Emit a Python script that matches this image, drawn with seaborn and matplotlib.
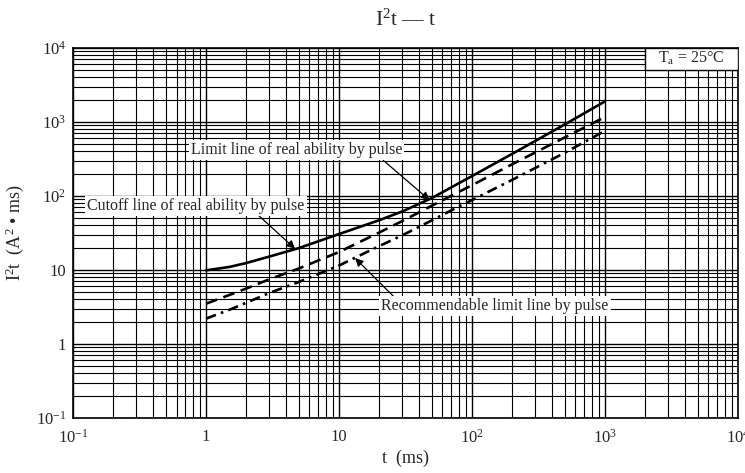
import pandas as pd
import matplotlib.pyplot as plt
import seaborn as sns
from matplotlib.patches import Rectangle
from matplotlib.ticker import LogLocator, NullFormatter, FixedLocator, FixedFormatter

# data (t in ms, I2t in A^2*ms)
t_ms = [1, 1.5, 2, 3, 5, 10, 20, 30, 50, 70, 100, 200, 500, 1000]
limit_line = [9.9, 11.0, 12.4, 15.2, 19.8, 30.6, 47, 62, 94, 131, 186, 370, 930, 1900]
cutoff_line = [3.5, 4.6, 5.6, 7.5, 10.5, 17.5, 32, 46, 74, 101, 140, 268, 620, 1170]
recommend_line = [2.2, 2.9, 3.6, 4.9, 6.9, 11.5, 21, 29.5, 47, 64, 88, 165, 385, 760]

decades = [0.1, 1, 10, 100, 1000, 10000]
x_labels = ["10$^{-1}$", "1", "10", "10$^{2}$", "10$^{3}$", "10$^{4}$"]
y_labels = ["10$^{-1}$", "1", "10", "10$^{2}$", "10$^{3}$", "10$^{4}$"]

sns.set_theme(style="white")
plt.rcParams["font.family"] = ["Liberation Serif", "DejaVu Serif"]
plt.rcParams["mathtext.fontset"] = "custom"
plt.rcParams["mathtext.rm"] = "Liberation Serif"
plt.rcParams["mathtext.it"] = "Liberation Serif:italic"

fig = plt.figure(figsize=(7.45, 4.73), dpi=100)
ax = fig.add_axes([0.098, 0.1163, 0.8926, 0.7822])

df = pd.DataFrame({"t": t_ms, "limit": limit_line,
                   "cutoff": cutoff_line, "recommend": recommend_line})

sns.lineplot(data=df, x="t", y="limit", ax=ax, color="black", lw=1.9, zorder=5)
sns.lineplot(data=df, x="t", y="cutoff", ax=ax, color="black", lw=1.9,
             linestyle=(0, (4.5, 2.5)), zorder=5)
sns.lineplot(data=df, x="t", y="recommend", ax=ax, color="black", lw=1.9,
             linestyle=(0, (4, 2, 1, 2)), zorder=5)

ax.set_xscale("log")
ax.set_yscale("log")
ax.set_xlim(0.1, 10000)
ax.set_ylim(0.1, 10000)

# log grid, black like the datasheet
ax.xaxis.set_major_locator(FixedLocator(decades))
ax.yaxis.set_major_locator(FixedLocator(decades))
ax.xaxis.set_major_formatter(FixedFormatter(x_labels))
ax.yaxis.set_major_formatter(FixedFormatter(y_labels))
ax.xaxis.set_minor_locator(LogLocator(base=10, subs=range(2, 10), numticks=20))
ax.yaxis.set_minor_locator(LogLocator(base=10, subs=range(2, 10), numticks=20))
ax.xaxis.set_minor_formatter(NullFormatter())
ax.yaxis.set_minor_formatter(NullFormatter())
ax.grid(which="major", color="black", lw=1.0, zorder=1)
ax.grid(which="minor", color="black", lw=0.8, zorder=1)
ax.set_axisbelow(True)
ax.tick_params(which="both", length=0)
ax.tick_params(axis="x", pad=8, labelsize=12)
ax.tick_params(axis="y", pad=5, labelsize=12)
for s in ax.spines.values():
    s.set_color("black")
    s.set_linewidth(1.2)

ax.set_xlabel("t  (ms)", fontsize=13, labelpad=2)
ax.set_ylabel("I$^{2}$t  (A$^{2}$ • ms)", fontsize=13, labelpad=7)
ax.set_title("I$^{2}$t — t", fontsize=15.5, pad=16)

box = dict(facecolor="white", edgecolor="none", pad=1.5)
arrow = dict(arrowstyle="-|>", color="black", lw=0.9, mutation_scale=12,
             shrinkA=0, shrinkB=0)

ax.annotate("", xy=(48, 88), xytext=(21.4, 306), arrowprops=arrow, zorder=6)
ax.text(4.8, 419, "Limit line of real ability by pulse", ha="center",
        va="center", fontsize=11.5, bbox=box, zorder=7)

ax.annotate("", xy=(4.67, 19.4), xytext=(2.42, 57), arrowprops=arrow, zorder=6)
ax.text(0.84, 73, "Cutoff line of real ability by pulse", ha="center",
        va="center", fontsize=11.5, bbox=box, zorder=7)

ax.annotate("", xy=(13.2, 14.5), xytext=(25.5, 4.46), arrowprops=arrow, zorder=6)
ax.text(149, 3.27, "Recommendable limit line by pulse", ha="center",
        va="center", fontsize=11.5, bbox=box, zorder=7)

ax.add_patch(Rectangle((2000, 5000), 8000, 5000, facecolor="white",
                       edgecolor="black", lw=1.0, zorder=4))
ax.text(4470, 7300, "T$_{\\mathrm{a}}$ = 25°C", ha="center", va="center",
        fontsize=11.5, zorder=7)

plt.savefig("out.png", dpi=100)
